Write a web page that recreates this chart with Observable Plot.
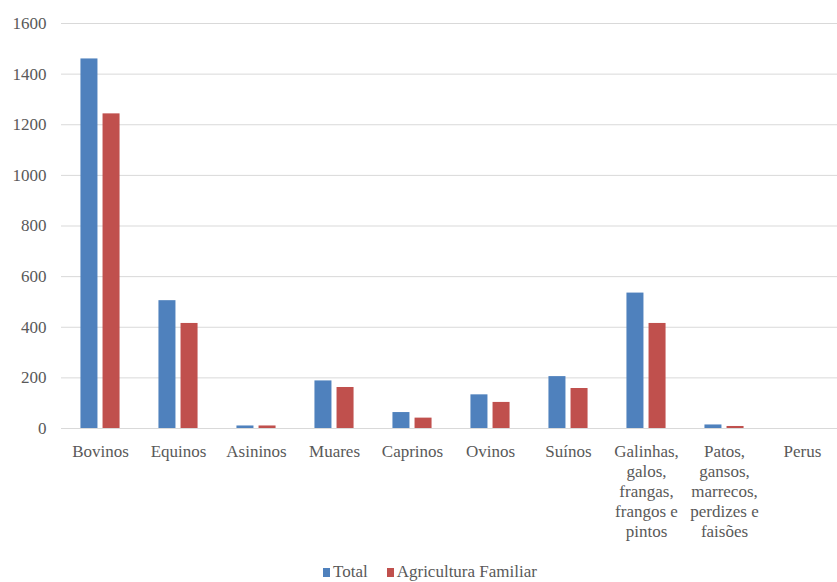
<!DOCTYPE html>
<html>
<head>
<meta charset="utf-8">
<script src="https://cdn.jsdelivr.net/npm/d3@7"></script>
<script src="https://cdn.jsdelivr.net/npm/@observablehq/plot@0.6"></script>
<style>
  body { margin: 0; background: #fff; overflow: hidden; }
  #chart { width: 837px; }
  #chart svg text { font-family: "Liberation Serif", "Times New Roman", "DejaVu Serif", serif; }
  .legend { display: flex; gap: 19px; padding-left: 323px; margin-top: 5px;
            font-family: "Liberation Serif", "Times New Roman", "DejaVu Serif", serif;
            font-size: 17px; color: #595959; line-height: 18px; }
  .legend span.sw { display: inline-block; width: 7px; height: 9px; margin-right: 3px; vertical-align: baseline; }
</style>
</head>
<body>
<div id="chart"></div>
<script>
// Livestock headcount by species: total vs. family farming
const categories = [
  "Bovinos", "Equinos", "Asininos", "Muares", "Caprinos", "Ovinos", "Suínos",
  "Galinhas,\ngalos,\nfrangas,\nfrangos e\npintos",
  "Patos,\ngansos,\nmarrecos,\nperdizes e\nfaisões",
  "Perus"
];
const series = ["Total", "Agricultura Familiar"];
const totalValues = [1460, 505, 10, 188, 63, 133, 205, 535, 14, 0];
const familiarValues = [1243, 415, 10, 162, 41, 103, 158, 415, 8, 0];
const seriesColors = ["#4f81bd", "#c0504d"];

const rows = categories.flatMap((c, i) => [
  {category: c, series: series[0], value: totalValues[i]},
  {category: c, series: series[1], value: familiarValues[i]}
]);

const hasAxisMarks = typeof Plot.axisFx === "function";

const chart = Plot.plot({
  width: 837,
  height: 558,
  marginLeft: 61,
  marginRight: -4,
  marginTop: 23,
  marginBottom: 130,
  style: {fontFamily: "'Liberation Serif', 'Times New Roman', serif", fontSize: "17px", color: "#595959", background: "#fff", overflow: "hidden"},
  facet: {data: rows, x: "category"},
  fx: {domain: categories, padding: 0, round: false, axis: hasAxisMarks ? null : "bottom", label: null, tickSize: 0, tickPadding: 13},
  x: {domain: series, axis: null, round: false, paddingInner: 0.23, paddingOuter: 0.88},
  y: {domain: [0, 1600], ticks: 8, tickSize: 0, tickPadding: 15, label: null, tickFormat: d => String(d)},
  color: {domain: series, range: seriesColors},
  marks: [
    Plot.ruleY(d3.range(0, 1601, 200), {stroke: "#d9d9d9", strokeWidth: 1}),
    Plot.barY(rows, {x: "series", y: "value", fill: "series"}),
    ...(hasAxisMarks
      ? [Plot.axisFx({anchor: "bottom", tickSize: 0, tickPadding: 14, label: null, lineHeight: 1.18})]
      : [])
  ]
});
document.getElementById("chart").append(chart);

const legend = document.createElement("div");
legend.className = "legend";
series.forEach((s, i) => {
  const item = document.createElement("div");
  const sw = document.createElement("span");
  sw.className = "sw";
  sw.style.background = seriesColors[i];
  item.append(sw, document.createTextNode(s));
  legend.append(item);
});
document.getElementById("chart").append(legend);
</script>
</body>
</html>
